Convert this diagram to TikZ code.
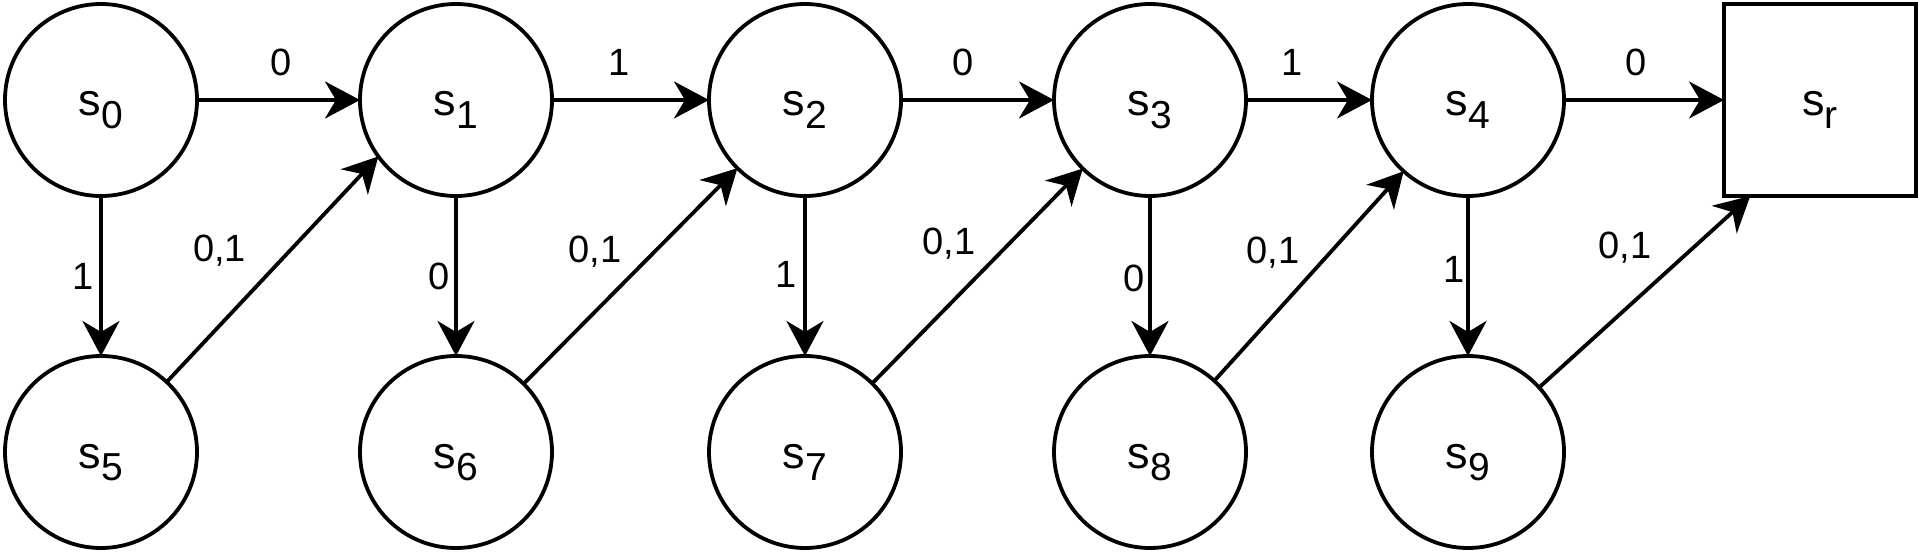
\documentclass[tikz,border=0pt]{standalone}
\usepackage{fontspec}
\setmainfont{Liberation Sans}
\usetikzlibrary{arrows.meta,positioning}
\newcommand{\Sst}[1]{s\raisebox{-6.4pt}{\fontsize{19.5}{20}\selectfont #1}}

\begin{document}
\begin{tikzpicture}[>={Stealth[length=17.5pt,width=18.5pt,inset=5.5pt]},line width=1.9pt,node distance=80pt,
 stnode/.style={draw,circle,minimum size=96pt,inner sep=0pt,outer sep=0pt,text height=22.4pt,text depth=6.4pt,font=\fontsize{22.5}{26}\selectfont},
 endnode/.style={stnode,rectangle},
 lbl/.style={inner sep=0pt,font=\fontsize{19}{23}\selectfont}]
 \useasboundingbox (-50.5pt,-227.5pt) rectangle (909.5pt,50pt);
 % top row
 \node[stnode] (s0) at (0,0) {\Sst{0}};
 \node[stnode,right=81.5pt of s0] (s1) {\Sst{1}};
 \node[stnode,right=78.5pt of s1] (s2) {\Sst{2}};
 \node[stnode,right=76.5pt of s2] (s3) {\Sst{3}};
 \node[stnode,right=63pt of s3] (s4) {\Sst{4}};
 \node[endnode,right=80pt of s4] (sr) {\Sst{r}};
 % bottom row
 \node[stnode,below=of s0] (s5) {\Sst{5}};
 \node[stnode,below=of s1] (s6) {\Sst{6}};
 \node[stnode,below=of s2] (s7) {\Sst{7}};
 \node[stnode,below=of s3] (s8) {\Sst{8}};
 \node[stnode,below=of s4] (s9) {\Sst{9}};
 % chain
 \draw[->] (s0) -- node[lbl,pos=.515,yshift=18.7pt] {0} (s1);
 \draw[->] (s1) -- node[lbl,pos=.43,yshift=18.7pt] {1} (s2);
 \draw[->] (s2) -- node[lbl,pos=.405,yshift=18.7pt] {0} (s3);
 \draw[->] (s3) -- node[lbl,pos=.365,yshift=18.7pt] {1} (s4);
 \draw[->] (s4) -- node[lbl,pos=.45,yshift=18.7pt] {0} (sr);
 % down
 \draw[->] (s0) -- node[lbl,xshift=-9pt] {1} (s5);
 \draw[->] (s1) -- node[lbl,xshift=-8.5pt] {0} (s6);
 \draw[->] (s2) -- node[lbl,xshift=-9.5pt,yshift=1pt] {1} (s7);
 \draw[->] (s3) -- node[lbl,xshift=-8pt,yshift=-1pt] {0} (s8);
 \draw[->] (s4) -- node[lbl,xshift=-7pt,yshift=3.5pt] {1} (s9);
 % back up
 \draw[->] (s5) -- node[lbl,xshift=-26.5pt,yshift=9.5pt] {0,1} (s1.216);
 \draw[->] (s6) -- node[lbl,xshift=-17.75pt,yshift=12pt] {0,1} (s2);
 \draw[->] (s7) -- node[lbl,xshift=-14.25pt,yshift=16pt] {0,1} (s3);
 \draw[->] (s8) -- node[lbl,xshift=-18pt,yshift=11.5pt] {0,1} (s4);
 \draw[->] (s9) -- node[lbl,xshift=-9.75pt,yshift=22pt] {0,1} (sr.234);
\end{tikzpicture}
\end{document}
